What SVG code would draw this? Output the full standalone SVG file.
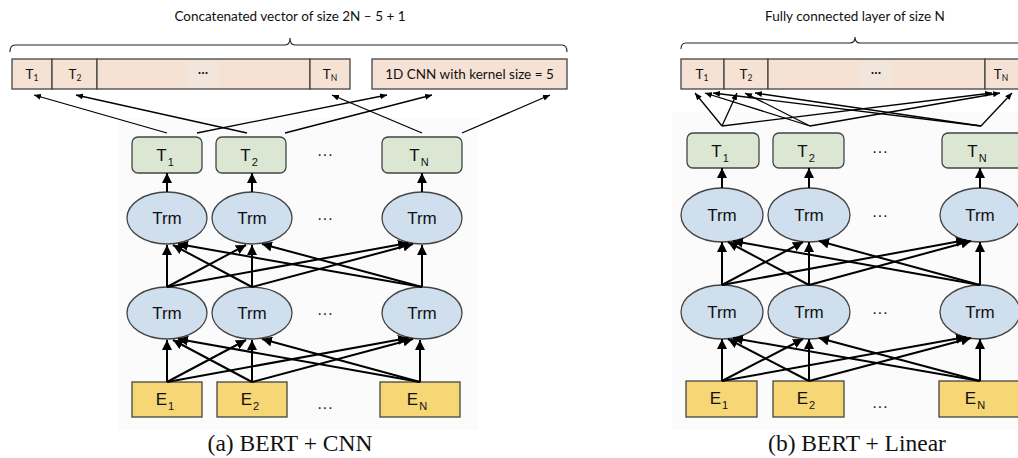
<svg xmlns="http://www.w3.org/2000/svg" width="1018" height="458" viewBox="0 0 1018 458">
  <defs>
    <marker id="head" markerUnits="userSpaceOnUse" markerWidth="11" markerHeight="10" refX="10" refY="5" orient="auto">
      <path d="M0,0 L10,5 L0,10 z" fill="#000"/>
    </marker>
    <marker id="headSmall" markerUnits="userSpaceOnUse" markerWidth="8" markerHeight="6" refX="7" refY="3" orient="auto">
      <path d="M0,0 L7,3 L0,6 z" fill="#000"/>
    </marker>
  </defs>
  <style>
    .panel { fill: #fbfbfb; }
    .cell { fill: #f6e2d5; stroke: #444; stroke-width: 1.3; }
    .dotpad { fill: #f1e6db; }
    .tbox { fill: #dbe7d3; stroke: #444; stroke-width: 1.3; }
    .trm { fill: #cfdfee; stroke: #444; stroke-width: 1.3; }
    .emb { fill: #f6d675; stroke: #444; stroke-width: 1.3; }
    .cal { font-family: Lato, "Liberation Sans", sans-serif; font-size: 13.5px; fill: #111; text-anchor: middle; }
    .calsub { font-size: 8.5px; }
    .lbl { font-family: "Liberation Sans", Arial, sans-serif; font-size: 17px; fill: #111; text-anchor: middle; }
    .sub { font-size: 11px; }
    .dots { font-family: "Liberation Sans", Arial, sans-serif; font-size: 16px; fill: #222; text-anchor: middle; }
    .cap { font-family: "Liberation Serif", "Times New Roman", serif; font-size: 23.5px; fill: #111; text-anchor: middle; }
    .brace { fill: none; stroke: #222; stroke-width: 1.1; }
    .thin { stroke: #000; stroke-width: 1.3; fill: none; marker-end: url(#headSmall); }
    .thick { stroke: #000; stroke-width: 2; fill: none; marker-end: url(#head); }
  </style>

  <!-- soft backdrop behind each encoder stack -->
  <rect class="panel" x="118" y="118" width="360" height="312"/>
  <rect class="panel" x="672" y="112" width="346" height="318"/>

  <!-- ================= (a) BERT + CNN ================= -->
  <g id="cnn-output">
    <text class="cal" x="290" y="21">Concatenated vector of size 2N – 5 + 1</text>
    <path class="brace" d="M10,52 Q10,45 15,45 L285,45 Q290,45 290,38 Q290,45 295,45 L562,45 Q567,45 567,52"/>
    <rect class="cell" x="12" y="59" width="40" height="30"/>
    <rect class="cell" x="52" y="59" width="45" height="30"/>
    <rect class="cell" x="97" y="59" width="213" height="30"/>
    <rect class="dotpad" x="187" y="61" width="32" height="26"/>
    <rect class="cell" x="310" y="59" width="40" height="30"/>
    <text class="cal" x="32" y="79">T<tspan class="calsub" dy="2">1</tspan></text>
    <text class="cal" x="75" y="79">T<tspan class="calsub" dy="2">2</tspan></text>
    <text class="cal" x="203" y="77">···</text>
    <text class="cal" x="330" y="79">T<tspan class="calsub" dy="2">N</tspan></text>
  </g>
  <g id="cnn-kernel">
    <rect class="cell" x="372" y="59" width="195" height="30"/>
    <text class="cal" x="469.5" y="78.5">1D CNN with kernel size = 5</text>
  </g>

  <g id="a-t1"><rect class="tbox" x="132" y="137" width="70" height="36" rx="6"/><text class="lbl" x="165" y="161">T<tspan class="sub" dx="1" dy="5">1</tspan></text></g>
  <g id="a-t2"><rect class="tbox" x="216" y="137" width="70" height="36" rx="6"/><text class="lbl" x="249" y="161">T<tspan class="sub" dx="1" dy="5">2</tspan></text></g>
  <g id="a-tn"><rect class="tbox" x="382" y="137" width="80" height="36" rx="6"/><text class="lbl" x="419" y="161">T<tspan class="sub" dx="1" dy="5">N</tspan></text></g>

  <g id="a-trm-u1"><ellipse class="trm" cx="167" cy="218" rx="40" ry="26"/><text class="lbl" x="167" y="224">Trm</text></g>
  <g id="a-trm-u2"><ellipse class="trm" cx="252" cy="218" rx="40" ry="26"/><text class="lbl" x="252" y="224">Trm</text></g>
  <g id="a-trm-un"><ellipse class="trm" cx="422" cy="218" rx="40" ry="26"/><text class="lbl" x="422" y="224">Trm</text></g>

  <g id="a-trm-l1"><ellipse class="trm" cx="167" cy="313" rx="40" ry="26"/><text class="lbl" x="167" y="319">Trm</text></g>
  <g id="a-trm-l2"><ellipse class="trm" cx="252" cy="313" rx="40" ry="26"/><text class="lbl" x="252" y="319">Trm</text></g>
  <g id="a-trm-ln"><ellipse class="trm" cx="422" cy="313" rx="40" ry="26"/><text class="lbl" x="422" y="319">Trm</text></g>

  <g id="a-e1"><rect class="emb" x="132" y="382" width="70" height="35"/><text class="lbl" x="165" y="405">E<tspan class="sub" dx="1" dy="5">1</tspan></text></g>
  <g id="a-e2"><rect class="emb" x="217" y="382" width="70" height="35"/><text class="lbl" x="250" y="405">E<tspan class="sub" dx="1" dy="5">2</tspan></text></g>
  <g id="a-en"><rect class="emb" x="380" y="382" width="80" height="35"/><text class="lbl" x="417" y="405">E<tspan class="sub" dx="1" dy="5">N</tspan></text></g>

  <g id="a-ellipsis">
    <text class="dots" x="325" y="160">···</text>
    <text class="dots" x="325" y="224">···</text>
    <text class="dots" x="325" y="319">···</text>
    <text class="dots" x="325" y="413">···</text>
  </g>

  <text class="cap" x="290" y="451">(a) BERT + CNN</text>

  <g id="a-connectors">
    <!-- token outputs to the concatenated vector -->
    <line class="thin" x1="167" y1="133" x2="34" y2="95"/>
    <line class="thin" x1="247" y1="133" x2="76" y2="95"/>
    <line class="thin" x1="422" y1="133" x2="332" y2="95"/>
    <line class="thin" x1="197" y1="133" x2="387" y2="95"/>
    <line class="thin" x1="285" y1="133" x2="432" y2="95"/>
    <line class="thin" x1="462" y1="133" x2="550" y2="95"/>
    <!-- upper Trm to T -->
    <line class="thick" x1="167" y1="192" x2="167" y2="173"/>
    <line class="thick" x1="252" y1="192" x2="252" y2="173"/>
    <line class="thick" x1="422" y1="192" x2="422" y2="173"/>
    <!-- lower Trm to upper Trm -->
    <line class="thick" x1="167" y1="287" x2="167" y2="245"/>
    <line class="thick" x1="252" y1="287" x2="173" y2="245"/>
    <line class="thick" x1="422" y1="287" x2="178" y2="244"/>
    <line class="thick" x1="167" y1="287" x2="246" y2="245"/>
    <line class="thick" x1="252" y1="287" x2="252" y2="245"/>
    <line class="thick" x1="422" y1="287" x2="262" y2="244"/>
    <line class="thick" x1="167" y1="287" x2="408" y2="243"/>
    <line class="thick" x1="252" y1="287" x2="413" y2="244"/>
    <line class="thick" x1="422" y1="287" x2="422" y2="245"/>
    <!-- embeddings to lower Trm -->
    <line class="thick" x1="167" y1="382" x2="167" y2="340"/>
    <line class="thick" x1="252" y1="382" x2="173" y2="340"/>
    <line class="thick" x1="420" y1="382" x2="178" y2="339"/>
    <line class="thick" x1="167" y1="382" x2="246" y2="340"/>
    <line class="thick" x1="252" y1="382" x2="252" y2="340"/>
    <line class="thick" x1="420" y1="382" x2="262" y2="339"/>
    <line class="thick" x1="167" y1="382" x2="408" y2="338"/>
    <line class="thick" x1="252" y1="382" x2="413" y2="339"/>
    <line class="thick" x1="420" y1="382" x2="420" y2="340"/>
  </g>

  <!-- ================= (b) BERT + Linear ================= -->
  <g id="linear-output">
    <text class="cal" x="855" y="21">Fully connected layer of size N</text>
    <path class="brace" d="M681,49 Q681,43 686,43 L850,43 Q855,43 855,37 Q855,43 860,43 L1030,43"/>
    <rect class="cell" x="681" y="59" width="43" height="30"/>
    <rect class="cell" x="724" y="59" width="44" height="30"/>
    <rect class="cell" x="768" y="59" width="217" height="30"/>
    <rect class="dotpad" x="860" y="61" width="32" height="26"/>
    <rect class="cell" x="985" y="59" width="40" height="30"/>
    <text class="cal" x="702" y="79">T<tspan class="calsub" dy="2">1</tspan></text>
    <text class="cal" x="746" y="79">T<tspan class="calsub" dy="2">2</tspan></text>
    <text class="cal" x="876" y="77">···</text>
    <text class="cal" x="1001" y="79">T<tspan class="calsub" dy="2">N</tspan></text>
  </g>

  <g id="b-t1"><rect class="tbox" x="687" y="133" width="72" height="35" rx="6"/><text class="lbl" x="720" y="157">T<tspan class="sub" dx="1" dy="5">1</tspan></text></g>
  <g id="b-t2"><rect class="tbox" x="773" y="133" width="71" height="35" rx="6"/><text class="lbl" x="806" y="157">T<tspan class="sub" dx="1" dy="5">2</tspan></text></g>
  <g id="b-tn"><rect class="tbox" x="942" y="133" width="84" height="35" rx="6"/><text class="lbl" x="977" y="157">T<tspan class="sub" dx="1" dy="5">N</tspan></text></g>

  <g id="b-trm-u1"><ellipse class="trm" cx="722" cy="215" rx="41" ry="27"/><text class="lbl" x="722" y="221">Trm</text></g>
  <g id="b-trm-u2"><ellipse class="trm" cx="809" cy="215" rx="41" ry="27"/><text class="lbl" x="809" y="221">Trm</text></g>
  <g id="b-trm-un"><ellipse class="trm" cx="980" cy="215" rx="40" ry="27"/><text class="lbl" x="980" y="221">Trm</text></g>

  <g id="b-trm-l1"><ellipse class="trm" cx="722" cy="312" rx="41" ry="27"/><text class="lbl" x="722" y="318">Trm</text></g>
  <g id="b-trm-l2"><ellipse class="trm" cx="809" cy="312" rx="41" ry="27"/><text class="lbl" x="809" y="318">Trm</text></g>
  <g id="b-trm-ln"><ellipse class="trm" cx="980" cy="312" rx="40" ry="27"/><text class="lbl" x="980" y="318">Trm</text></g>

  <g id="b-e1"><rect class="emb" x="686" y="381" width="71" height="36"/><text class="lbl" x="719" y="404">E<tspan class="sub" dx="1" dy="5">1</tspan></text></g>
  <g id="b-e2"><rect class="emb" x="773" y="381" width="71" height="36"/><text class="lbl" x="806" y="404">E<tspan class="sub" dx="1" dy="5">2</tspan></text></g>
  <g id="b-en"><rect class="emb" x="939" y="381" width="85" height="36"/><text class="lbl" x="975" y="404">E<tspan class="sub" dx="1" dy="5">N</tspan></text></g>

  <g id="b-ellipsis">
    <text class="dots" x="880" y="157">···</text>
    <text class="dots" x="880" y="221">···</text>
    <text class="dots" x="880" y="318">···</text>
    <text class="dots" x="880" y="412">···</text>
  </g>

  <text class="cap" x="857" y="451">(b) BERT + Linear</text>

  <g id="b-connectors">
    <!-- every token output feeds every unit of the linear layer -->
    <line class="thin" x1="722" y1="126" x2="695" y2="93"/>
    <line class="thin" x1="722" y1="126" x2="737" y2="93"/>
    <line class="thin" x1="722" y1="126" x2="992" y2="93"/>
    <line class="thin" x1="810" y1="126" x2="705" y2="93"/>
    <line class="thin" x1="810" y1="126" x2="745" y2="93"/>
    <line class="thin" x1="810" y1="126" x2="1000" y2="93"/>
    <line class="thin" x1="981" y1="126" x2="713" y2="93"/>
    <line class="thin" x1="981" y1="126" x2="755" y2="93"/>
    <line class="thin" x1="981" y1="126" x2="1012" y2="93"/>
    <!-- upper Trm to T -->
    <line class="thick" x1="722" y1="188" x2="722" y2="168"/>
    <line class="thick" x1="809" y1="188" x2="809" y2="168"/>
    <line class="thick" x1="980" y1="188" x2="980" y2="168"/>
    <!-- lower Trm to upper Trm -->
    <line class="thick" x1="722" y1="285" x2="722" y2="242"/>
    <line class="thick" x1="809" y1="285" x2="728" y2="242"/>
    <line class="thick" x1="980" y1="285" x2="733" y2="241"/>
    <line class="thick" x1="722" y1="285" x2="803" y2="242"/>
    <line class="thick" x1="809" y1="285" x2="809" y2="242"/>
    <line class="thick" x1="980" y1="285" x2="819" y2="241"/>
    <line class="thick" x1="722" y1="285" x2="966" y2="240"/>
    <line class="thick" x1="809" y1="285" x2="971" y2="241"/>
    <line class="thick" x1="980" y1="285" x2="980" y2="242"/>
    <!-- embeddings to lower Trm -->
    <line class="thick" x1="722" y1="381" x2="722" y2="339"/>
    <line class="thick" x1="809" y1="381" x2="728" y2="339"/>
    <line class="thick" x1="980" y1="381" x2="733" y2="338"/>
    <line class="thick" x1="722" y1="381" x2="803" y2="339"/>
    <line class="thick" x1="809" y1="381" x2="809" y2="339"/>
    <line class="thick" x1="980" y1="381" x2="819" y2="338"/>
    <line class="thick" x1="722" y1="381" x2="966" y2="337"/>
    <line class="thick" x1="809" y1="381" x2="971" y2="338"/>
    <line class="thick" x1="980" y1="381" x2="980" y2="339"/>
  </g>
</svg>
